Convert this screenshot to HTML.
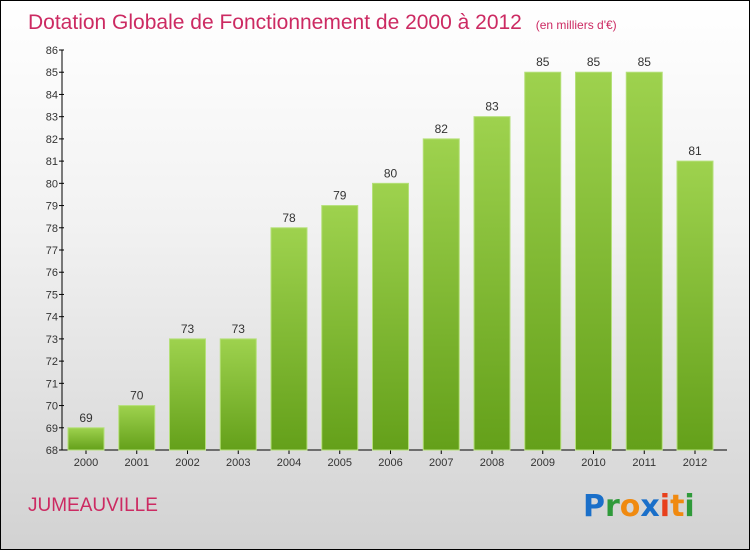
<!DOCTYPE html>
<html><head><meta charset="utf-8"><style>
html,body{margin:0;padding:0}
body{width:750px;height:550px;overflow:hidden;font-family:"Liberation Sans",sans-serif}
#wrap{position:absolute;left:0;top:0;width:748px;height:548px;border:1px solid #000;background:linear-gradient(#ffffff 0%,#f2f2f2 40%,#d2d2d2 100%)}
</style></head><body>
<div id="wrap">
<svg id="chart" width="750" height="550" style="position:absolute;left:-1px;top:-1px">
<defs><linearGradient id="bg" x1="0" y1="0" x2="0" y2="1"><stop offset="0" stop-color="#9ed24e"/><stop offset="1" stop-color="#64a01a"/></linearGradient></defs>
<text x="28" y="29" font-size="21" fill="#cc2a62" font-weight="300">Dotation Globale de Fonctionnement de 2000 à 2012 <tspan font-size="12" dx="8">(en milliers d'€)</tspan></text>
<text x="28" y="511" font-size="19" fill="#cc2a62">JUMEAUVILLE</text>
<g font-size="30" font-weight="bold" font-family="'DejaVu Sans',sans-serif">
<text x="583" y="516"><tspan fill="#1a6fc9">P</tspan><tspan fill="#2f9a3a">r</tspan><tspan fill="#f08a10">o</tspan><tspan fill="#1a6fc9">x</tspan><tspan fill="#e8401c">i</tspan><tspan fill="#f08a10">t</tspan><tspan fill="#2f9a3a">i</tspan></text>
</g>
<g id="axes"></g><g id="bars"></g>
</svg>
</div>
<script>
const categories=["2000","2001","2002","2003","2004","2005","2006","2007","2008","2009","2010","2011","2012"];
const values=[69,70,73,73,78,79,80,82,83,85,85,85,81];
const yTicks=[68,69,70,71,72,73,74,75,76,77,78,79,80,81,82,83,84,85,86];
{
const yMin=68,yMax=86,plotTop=50,plotBottom=450,x0=62;
function yS(v){return plotBottom-(v-yMin)/(yMax-yMin)*(plotBottom-plotTop);}
function xc(i){return 86+i*50.75;}
const NS="http://www.w3.org/2000/svg";
const ax=document.getElementById('axes'),bs=document.getElementById('bars');
function mk(tag,attrs,parent,text){const e=document.createElementNS(NS,tag);for(const k in attrs)e.setAttribute(k,attrs[k]);if(text!=null)e.textContent=text;parent.appendChild(e);return e;}
const yl=mk('line',{x1:x0,y1:plotTop,x2:x0,y2:plotBottom,stroke:'#000'},ax);


const xl=mk('line',{x1:x0,y1:plotBottom,x2:727,y2:plotBottom,stroke:'#000'},ax);


yTicks.forEach(t=>{
 mk('line',{x1:x0-3,y1:yS(t),x2:x0+2,y2:yS(t),stroke:'#000'},ax);
 const l=mk('text',{x:x0-4,y:yS(t)+4,'font-size':11,fill:'#333','text-anchor':'end'},ax,String(t));
 
 
});
categories.forEach((c,i)=>{
 const v=values[i],cx=xc(i);
 const r=mk('rect',{x:cx-18,y:yS(v),width:36,height:plotBottom-yS(v),fill:'url(#bg)',stroke:'#b5e07a','stroke-width':1},bs);
 
 
 const vl=mk('text',{x:cx,y:yS(v)-6,'font-size':12,fill:'#333','text-anchor':'middle'},bs,String(v));
 
 
 mk('line',{x1:cx,y1:plotBottom,x2:cx,y2:plotBottom+4,stroke:'#000'},ax);
 const xlb=mk('text',{x:cx,y:plotBottom+16,'font-size':11,fill:'#333','text-anchor':'middle'},ax,c);
 
 
});
}
</script>
</body></html>
